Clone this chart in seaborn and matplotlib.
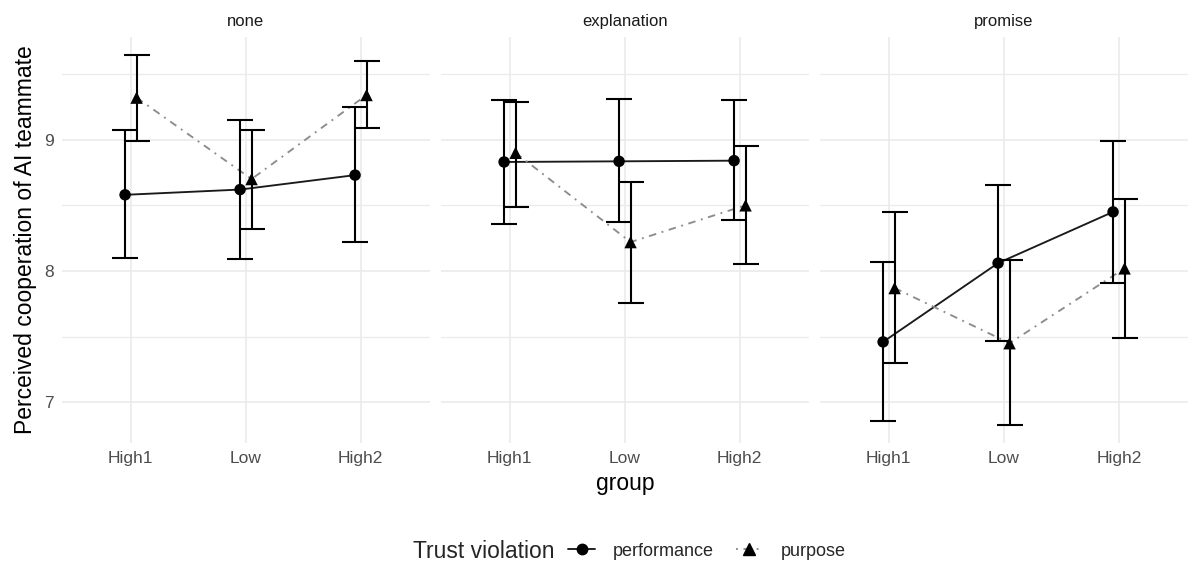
import numpy as np
import pandas as pd
import matplotlib
matplotlib.use("Agg")
import matplotlib.pyplot as plt
from matplotlib.lines import Line2D
from matplotlib.ticker import MultipleLocator
import seaborn as sns

# Facets, x categories and the two trust-violation series
panels = ["none", "explanation", "promise"]
groups = ["High1", "Low", "High2"]
series = ["performance", "purpose"]

# Means and interval bounds, in panel order (none, explanation, promise) x group order
perf_mean = [8.58, 8.62, 8.73, 8.83, 8.835, 8.84, 7.46, 8.06, 8.45]
perf_lo = [8.10, 8.09, 8.22, 8.36, 8.37, 8.39, 6.855, 7.47, 7.91]
perf_hi = [9.07, 9.15, 9.25, 9.30, 9.31, 9.30, 8.07, 8.655, 8.99]

purp_mean = [9.32, 8.70, 9.34, 8.90, 8.22, 8.50, 7.87, 7.45, 8.02]
purp_lo = [8.99, 8.32, 9.09, 8.49, 7.76, 8.05, 7.30, 6.825, 7.49]
purp_hi = [9.645, 9.07, 9.60, 9.29, 8.675, 8.95, 8.45, 8.08, 8.55]

rows = []
for s, m, lo, hi in [("performance", perf_mean, perf_lo, perf_hi),
                     ("purpose", purp_mean, purp_lo, purp_hi)]:
    for i, (mv, lv, hv) in enumerate(zip(m, lo, hi)):
        rows.append({"panel": panels[i // 3], "group": groups[i % 3],
                     "violation": s, "mean": mv, "lo": lv, "hi": hv})
df = pd.DataFrame(rows)

dodge = {"performance": -0.05, "purpose": 0.05}
df["xpos"] = df["group"].map({g: k for k, g in enumerate(groups)}) + df["violation"].map(dodge)

sns.set_theme(style="white")
plt.rcParams["font.family"] = ["Liberation Sans", "DejaVu Sans"]

line_colors = {"performance": "#1a1a1a", "purpose": "#8c8c8c"}
dash_styles = {"performance": "", "purpose": (4, 3, 1, 3)}
marker_map = {"performance": "o", "purpose": "^"}
marker_size = {"performance": 68, "purpose": 80}

fig, axes = plt.subplots(1, 3, figsize=(11.89, 5.64), dpi=100, sharey=True)
fig.subplots_adjust(left=0.052, right=0.999, top=0.934, bottom=0.2145, wspace=0.03)

for ax, p in zip(axes, panels):
    sub = df[df["panel"] == p]
    ax.set_facecolor("white")
    # gridlines
    ax.yaxis.set_major_locator(MultipleLocator(1))
    ax.yaxis.set_minor_locator(MultipleLocator(0.5))
    ax.grid(which="major", axis="both", color="#ebebeb", lw=1.2, zorder=0)
    ax.grid(which="minor", axis="y", color="#ebebeb", lw=0.9, zorder=0)
    ax.set_axisbelow(True)

    sns.lineplot(data=sub, x="xpos", y="mean", hue="violation", style="violation",
                 palette=line_colors, dashes=dash_styles, lw=1.35,
                 legend=False, ax=ax, zorder=3, sort=False)
    for s in series:
        ss = sub[sub["violation"] == s]
        ax.errorbar(ss["xpos"], ss["mean"],
                    yerr=[ss["mean"] - ss["lo"], ss["hi"] - ss["mean"]],
                    fmt="none", ecolor="black", elinewidth=1.5,
                    capsize=9.7, capthick=1.5, zorder=4)
        sns.scatterplot(data=ss, x="xpos", y="mean", marker=marker_map[s],
                        s=marker_size[s], color="black", edgecolor="none",
                        legend=False, ax=ax, zorder=5)

    ax.set_xlim(-0.6, 2.6)
    ax.set_ylim(6.69, 9.78)
    ax.set_xticks(range(len(groups)))
    ax.set_xticklabels(groups)
    ax.tick_params(axis="both", length=0, labelsize=12.5, labelcolor="#4d4d4d", pad=6)
    ax.set_title(p, fontsize=12, color="#1a1a1a", pad=8)
    for sp in ax.spines.values():
        sp.set_visible(False)
    ax.set_xlabel("")
    ax.set_ylabel("")

axes[0].set_ylabel("Perceived cooperation of AI teammate", fontsize=16.5, color="black", labelpad=5)
axes[1].set_xlabel("group", fontsize=16.5, color="black", labelpad=4)
for ax in axes[1:]:
    ax.tick_params(axis="y", labelleft=False)

handles = [
    Line2D([0], [0], color=line_colors["performance"], lw=1.35, marker="o",
           markersize=7.5, markerfacecolor="black", markeredgecolor="black"),
    Line2D([0], [0], color=line_colors["purpose"], lw=1.35, linestyle=(0, (1, 3, 4, 3)),
           marker="^", markersize=8.5, markerfacecolor="black", markeredgecolor="black"),
]
fig.text(413 / 1189, 1 - 551 / 564, "Trust violation", fontsize=16.5, va="center", ha="left")
fig.legend(handles, series, loc="center left", bbox_to_anchor=(568 / 1189, 1 - 551 / 564),
           ncol=2, frameon=False, fontsize=13, handlelength=1.5,
           handletextpad=1.0, columnspacing=1.2, borderaxespad=0, borderpad=0)

fig.savefig("out.png", dpi=100)
